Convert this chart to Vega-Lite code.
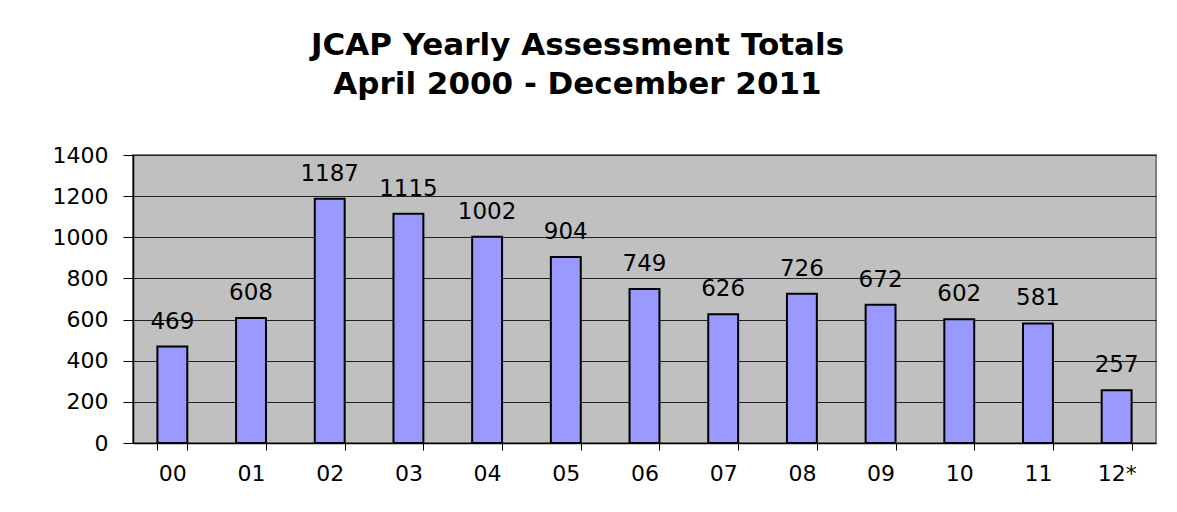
{
  "$schema": "https://vega.github.io/schema/vega-lite/v6.json",
  "width": 1023,
  "height": 288,
  "autosize": {"type": "none"},
  "padding": {"left": 133, "top": 155, "right": 21, "bottom": 69},
  "background": "white",
  "config": {
    "font": "DejaVu Sans",
    "view": {"fill": "#C0C0C0", "stroke": "#808080", "strokeWidth": 2}
  },
  "title": {
    "text": ["JCAP Yearly Assessment Totals", "April 2000 - December 2011"],
    "fontSize": 31,
    "fontWeight": "bold",
    "font": "DejaVu Sans",
    "color": "black",
    "anchor": "middle",
    "dx": -67,
    "lineHeight": 39,
    "offset": 43
  },
  "data": {
    "values": [
      {"year": "00", "total": 469},
      {"year": "01", "total": 608},
      {"year": "02", "total": 1187},
      {"year": "03", "total": 1115},
      {"year": "04", "total": 1002},
      {"year": "05", "total": 904},
      {"year": "06", "total": 749},
      {"year": "07", "total": 626},
      {"year": "08", "total": 726},
      {"year": "09", "total": 672},
      {"year": "10", "total": 602},
      {"year": "11", "total": 581},
      {"year": "12*", "total": 257}
    ]
  },
  "encoding": {
    "x": {
      "field": "year",
      "type": "nominal",
      "sort": null,
      "scale": {"paddingInner": 0.62, "paddingOuter": 0.31},
      "axis": {
        "title": null,
        "labelAngle": 0,
        "labelFontSize": 22,
        "labelColor": "black",
        "labelPadding": 13,
        "tickBand": "extent",
        "tickSize": 7,
        "tickColor": "black",
        "domainColor": "black",
        "domainWidth": 1.5
      }
    },
    "y": {
      "field": "total",
      "type": "quantitative",
      "scale": {"domain": [0, 1400], "nice": false},
      "axis": {
        "title": null,
        "values": [0, 200, 400, 600, 800, 1000, 1200, 1400],
        "format": "d",
        "labelFontSize": 22,
        "labelColor": "black",
        "labelPadding": 15,
        "tickSize": 10,
        "tickColor": "black",
        "domainColor": "black",
        "domainWidth": 1.5,
        "grid": true,
        "gridColor": "#222222",
        "gridWidth": 1.2,
        "gridOpacity": 1
      }
    }
  },
  "layer": [
    {
      "mark": {"type": "bar", "fill": "#9999FF", "stroke": "black", "strokeWidth": 2}
    },
    {
      "mark": {"type": "text", "font": "DejaVu Sans", "fontSize": 23, "color": "black", "baseline": "alphabetic", "dy": -18},
      "encoding": {"text": {"field": "total", "type": "quantitative"}}
    }
  ]
}
